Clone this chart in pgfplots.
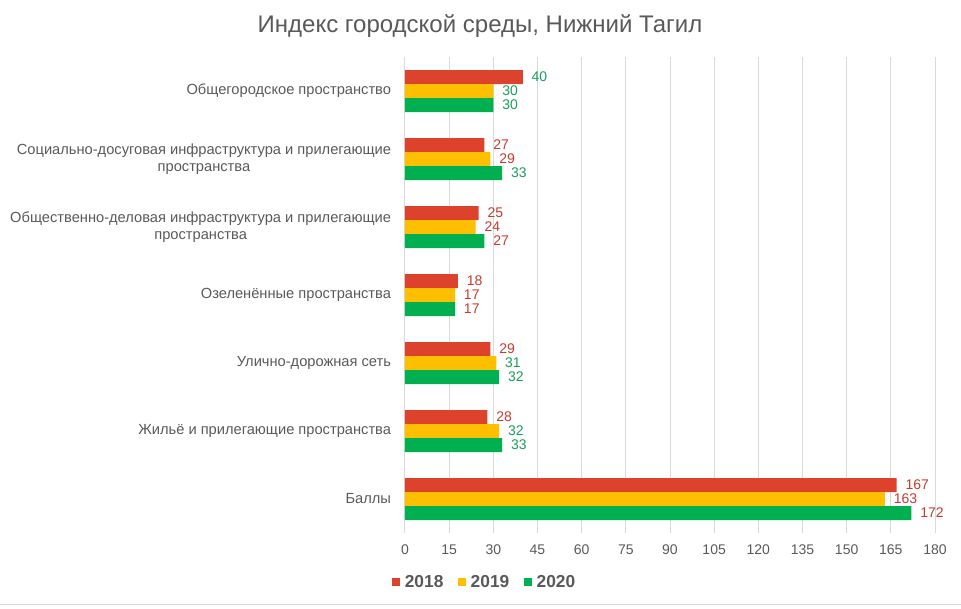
\documentclass[border=0pt]{standalone}
\usepackage{fontspec}
\setmainfont{Liberation Sans}
\usepackage{pgfplots}
\usepackage{pgfplotstable}
\pgfplotsset{compat=1.18}

\definecolor{cr}{HTML}{DD432C}
\definecolor{cy}{HTML}{FDBF00}
\definecolor{cg}{HTML}{00B050}
\definecolor{lr}{HTML}{C83A2E}
\definecolor{lg}{HTML}{1A9E5C}
\definecolor{txt}{HTML}{595959}
\definecolor{gridc}{HTML}{D9D9D9}

% y = category index, x = value, c = label colour (1 green, 0 red)
\pgfplotstableread{
y x c
0 40 1
1 27 0
2 25 0
3 18 0
4 29 0
5 28 0
6 167 0
}\tA
\pgfplotstableread{
y x c
0 30 1
1 29 0
2 24 0
3 17 0
4 31 1
5 32 1
6 163 0
}\tB
\pgfplotstableread{
y x c
0 30 1
1 33 1
2 27 0
3 17 0
4 32 1
5 33 1
6 172 0
}\tC

\begin{document}
\begin{tikzpicture}
\path[use as bounding box] (0pt,0pt) rectangle (720.75pt,456pt);
\draw[gridc, line width=0.75pt] (0pt,3pt) -- (720.75pt,3pt);
\node[text=txt, font=\fontsize{18}{22}\selectfont] at (360pt,436.5pt) {Индекс городской среды, Нижний Тагил};
\begin{axis}[
  at={(303.75pt,56.25pt)}, anchor=south west,
  scale only axis, width=397.5pt, height=357pt,
  xbar,
  xmin=0, xmax=180, ymin=-0.5, ymax=6.5,
  y dir=reverse,
  xtick={0,15,...,180},
  ytick={0,...,6},
  yticklabels={
    Общегородское пространство,
    {Социально-досуговая инфраструктура и прилегающие\\пространства},
    {Общественно-деловая инфраструктура и прилегающие\\пространства},
    Озеленённые пространства,
    Улично-дорожная сеть,
    Жильё и прилегающие пространства,
    Баллы},
  axis line style={draw=none},
  tick style={draw=none},
  xmajorgrids,
  grid style={draw=gridc, line width=0.75pt},
  ticklabel style={text=txt},
  xticklabel style={font=\fontsize{10.5}{12}\selectfont, yshift=-5.5pt},
  yticklabel style={font=\fontsize{11}{13}\selectfont, align=center, inner sep=0pt, xshift=-6pt},
  /pgf/number format/assume math mode=true,
  bar width=10.5pt,
  visualization depends on={\thisrow{c} \as \labc},
  nodes near coords={\ifdim\labc pt>0.5pt \color{lg}\else\color{lr}\fi\pgfmathprintnumber{\pgfplotspointmeta}},
  nodes near coords style={anchor=west, inner sep=0pt, xshift=6.5pt, font=\fontsize{10.5}{12}\selectfont},
  legend style={at={(0.151,-0.103)}, anchor=center, draw=none, fill=none,
    legend columns=3, text=txt, font=\bfseries\fontsize{13}{15}\selectfont,
    /tikz/every even column/.append style={column sep=9pt}},
  legend image code/.code={\fill[#1] (0pt,-3.25pt) rectangle (6pt,3.25pt); \path (7.5pt,0pt);},
]
\addplot[fill=cr, draw=none, bar shift=10.5pt] table[x=x, y=y] {\tA};
\addlegendentry{2018}
\addplot[fill=cy, draw=none, bar shift=0pt] table[x=x, y=y] {\tB};
\addlegendentry{2019}
\addplot[fill=cg, draw=none, bar shift=-10.5pt] table[x=x, y=y] {\tC};
\addlegendentry{2020}
\end{axis}
\end{tikzpicture}
\end{document}
